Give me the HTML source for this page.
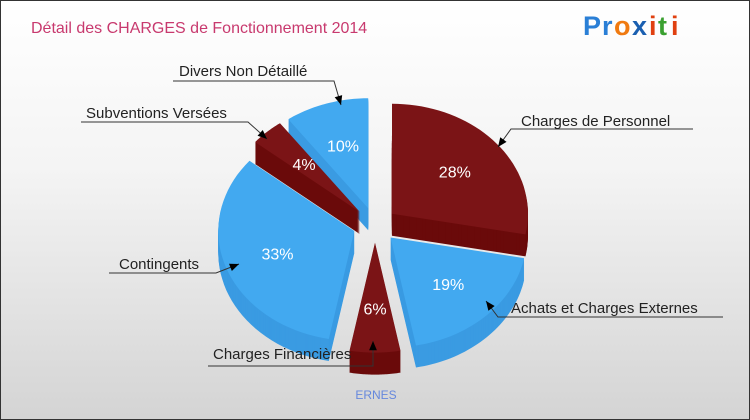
<!DOCTYPE html>
<html><head><meta charset="utf-8"><style>
html,body{margin:0;padding:0}
#wrap{width:748px;height:418px;border:1px solid #333;background:linear-gradient(#fff,#f4f4f4 40%,#d4d4d4);position:relative;overflow:hidden;font-family:"Liberation Sans",sans-serif}
</style></head><body>
<div id="wrap">
<svg width="748" height="418" style="position:absolute;left:0;top:0">
<text x="30" y="32" font-size="16" fill="#c8396e">Détail des CHARGES de Fonctionnement 2014</text>
<g font-size="27" font-weight="bold" font-family="'Liberation Sans',sans-serif">
<text x="582" y="34" fill="#2a7fd6">P</text><text x="601" y="34" fill="#2a7fd6">r</text><text x="613" y="34" fill="#f07a10">o</text><text x="631" y="34" fill="#1a5fb0">x</text><text x="648" y="34" fill="#e04010">i</text><text x="657" y="34" fill="#3aa030">t</text><text x="670" y="34" fill="#e04010">i</text></g>
<g id="slices"></g>
<g id="labels" fill="#222" font-size="15"></g>
<text x="375" y="398" font-size="12" fill="#6688dd" text-anchor="middle">ERNES</text>
</svg></div>
<script>
const categories=["Charges de Personnel","Achats et Charges Externes","Charges Financières","Contingents","Subventions Versées","Divers Non Détaillé"];
const values=[28,19,6,33,4,10];
const colorsTop=["#7b1416","#42a9f0","#7b1416","#42a9f0","#7b1416","#42a9f0"];
const colorsSide=["#6a0a0a","#3a9be2","#6a0a0a","#3a9be2","#6a0a0a","#3a9be2"];
const cx=374,cy=224,rx=136,ry=110,depth=22,explode=22;
const NS="http://www.w3.org/2000/svg";
const g=document.getElementById('slices');
const total=values.reduce((a,b)=>a+b,0);
function pt(ox,oy,a,k,dy){return [ox+rx*k*Math.sin(a),oy-ry*k*Math.cos(a)+(dy||0)];}
function path(ox,oy,a0,a1,dy){let s=`M${ox},${oy+dy}`;const n=40;for(let i=0;i<=n;i++){const p=pt(ox,oy,a0+(a1-a0)*i/n,1,dy);s+=`L${p[0].toFixed(1)},${p[1].toFixed(1)}`;}return s+'Z';}
let acc=0;const sl=[];
values.forEach((v,i)=>{const a0=acc/total*2*Math.PI;acc+=v;const a1=acc/total*2*Math.PI;const m=(a0+a1)/2;sl.push({i,a0,a1,m,ox:cx+explode*Math.sin(m),oy:cy-explode*Math.cos(m)*0.8});});
const order=sl.slice().sort((a,b)=>(-Math.cos(a.m))-(-Math.cos(b.m)));
order.forEach(s=>{
 const grp=document.createElementNS(NS,'g');
 
 
 for(let d=depth;d>0;d-=1){const p=document.createElementNS(NS,'path');p.setAttribute('d',path(s.ox,s.oy,s.a0,s.a1,d));p.setAttribute('fill',colorsSide[s.i]);grp.appendChild(p);}
 const t=document.createElementNS(NS,'path');t.setAttribute('d',path(s.ox,s.oy,s.a0,s.a1,0));t.setAttribute('fill',colorsTop[s.i]);grp.appendChild(t);
 g.appendChild(grp);
});
sl.forEach(s=>{const p=pt(s.ox,s.oy,s.m,0.6,0);const t=document.createElementNS(NS,'text');
 t.setAttribute('x',p[0]);t.setAttribute('y',p[1]+6);t.setAttribute('text-anchor','middle');t.setAttribute('fill','#fff');t.setAttribute('font-size','16');
 
 
 t.textContent=values[s.i]+'%';g.appendChild(t);});
const callouts=[
 {tx:520,ty:125,ux0:510,ux1:692,uy:128,ax:497,ay:146},
 {tx:510,ty:312,ux0:497,ux1:722,uy:316,ax:485,ay:300},
 {tx:212,ty:358,ux0:207,ux1:372,uy:365,ax:372,ay:340,up:true},
 {tx:118,ty:268,ux0:108,ux1:215,uy:272,ax:238,ay:263},
 {tx:85,ty:117,ux0:80,ux1:247,uy:121,ax:266,ay:138},
 {tx:178,ty:75,ux0:172,ux1:333,uy:80,ax:340,ay:104}];
const L=document.getElementById('labels');
callouts.forEach((c,i)=>{
 const grp=document.createElementNS(NS,'g');
 
 
 const near=(Math.abs(c.ax-c.ux0)<Math.abs(c.ax-c.ux1))?c.ux0:c.ux1;
 const ex=c.up?c.ux1:near;
 const ang=Math.atan2(c.ay-c.uy,c.ax-ex);const h=10;
 const a1=[c.ax-h*Math.cos(ang-0.4),c.ay-h*Math.sin(ang-0.4)],a2=[c.ax-h*Math.cos(ang+0.4),c.ay-h*Math.sin(ang+0.4)];
 grp.innerHTML=`<polyline points="${c.ux0},${c.uy} ${c.ux1},${c.uy} ${ex},${c.uy} ${c.ax},${c.ay}" fill="none" stroke="#333" stroke-width="1"/>
 <polygon points="${c.ax},${c.ay} ${a1[0]},${a1[1]} ${a2[0]},${a2[1]}" fill="#000"/>
 <text x="${c.tx}" y="${c.ty}" font-size="15" fill="#222">${categories[i]}</text>`;
 L.appendChild(grp);});
</script>
</body></html>
